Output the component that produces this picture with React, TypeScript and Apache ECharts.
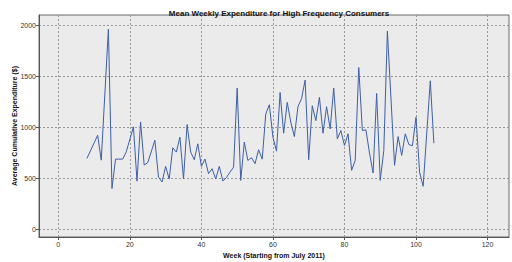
import React, { useEffect, useRef } from "react";
import * as echarts from "echarts";

const weeks = [8, 11, 12, 14, 15, 16, 18, 19, 21, 22, 23, 24, 25, 27, 28, 29, 30, 31, 32, 33, 34, 35, 36, 37, 38, 39, 40, 41, 42, 43, 44, 45, 46, 47, 48, 49, 50, 51, 52, 53, 54, 55, 56, 57, 58, 59, 60, 61, 62, 63, 64, 65, 66, 67, 68, 69, 70, 71, 72, 73, 74, 75, 76, 77, 78, 79, 80, 81, 82, 83, 84, 85, 86, 87, 88, 89, 90, 91, 92, 94, 95, 96, 97, 98, 99, 100, 101, 102, 104, 105];
const expenditure = [695, 922, 678, 1962, 400, 688, 688, 760, 1004, 472, 1052, 630, 653, 873, 513, 464, 617, 493, 800, 757, 903, 493, 1026, 757, 682, 838, 617, 688, 546, 594, 493, 617, 474, 507, 561, 610, 1384, 480, 854, 675, 702, 643, 780, 688, 1130, 1221, 903, 766, 1341, 942, 1244, 1049, 909, 1202, 1280, 1462, 682, 1211, 1065, 1293, 942, 1202, 984, 1384, 887, 968, 822, 936, 578, 675, 1585, 968, 975, 747, 552, 1331, 480, 773, 1942, 627, 909, 724, 936, 831, 819, 1098, 561, 422, 1455, 844];

const xTicks = [0, 20, 40, 60, 80, 100, 120];
const yTicks = [0, 500, 1000, 1500, 2000];

const title = "Mean Weekly Expenditure for High Frequency Consumers";
const xName = "Week (Starting from July 2011)";
const yName = "Average Cumulative Expenditure ($)";

export default function App() {
  const ref = useRef<HTMLDivElement>(null);
  useEffect(() => {
    if (!ref.current) return;
    const chart = echarts.init(ref.current, null, { renderer: "svg" });
    const font = "Liberation Sans, Arial, sans-serif";
    chart.setOption({
      animation: false,
      title: {
        text: title,
        left: 274,
        textAlign: "center",
        top: 4,
        textStyle: { fontSize: 8, fontWeight: "bold", color: "#111", fontFamily: font },
      },
      grid: {
        left: 39,
        top: 15,
        width: 470,
        height: 222,
        containLabel: false,
        outerBoundsMode: "none",
        show: true,
        backgroundColor: "#ebebeb",
        borderColor: "#6a6a6a",
        borderWidth: 1,
      },
      xAxis: {
        type: "value",
        min: -5.4,
        max: 126,
        name: xName,
        nameLocation: "middle",
        nameGap: 15,
        nameMoveOverlap: false,
        nameTextStyle: { fontSize: 7, fontWeight: "bold", color: "#111", fontFamily: font },
        axisLine: { show: true, onZero: false, lineStyle: { color: "#555" } },
        axisTick: { show: true, length: 3, lineStyle: { color: "#555" }, customValues: xTicks },
        axisLabel: {
          fontSize: 7,
          color: "#333",
          margin: 4,
          fontFamily: font,
          customValues: xTicks,
          formatter: (v: number) => String(v),
        },
        splitLine: { show: true, lineStyle: { color: "#999", type: [2, 2], width: 1 } },
      },
      yAxis: {
        type: "value",
        min: -75,
        max: 2100,
        name: yName,
        nameLocation: "middle",
        nameGap: 21,
        nameMoveOverlap: false,
        nameTextStyle: { fontSize: 7, fontWeight: "bold", color: "#111", fontFamily: font },
        axisLine: { show: true, onZero: false, lineStyle: { color: "#555" } },
        axisTick: { show: true, length: 3, lineStyle: { color: "#555" }, customValues: yTicks },
        axisLabel: {
          fontSize: 7,
          color: "#333",
          margin: 3,
          fontFamily: font,
          customValues: yTicks,
          formatter: (v: number) => String(v),
        },
        splitLine: { show: true, lineStyle: { color: "#999", type: [2, 2], width: 1 } },
      },
      series: [
        {
          type: "line",
          data: weeks.map((w, i) => [w, expenditure[i]]),
          showSymbol: false,
          symbol: "none",
          lineStyle: { color: "#3d5fa6", width: 1 },
        },
      ],
    });
    return () => chart.dispose();
  }, []);
  return <div ref={ref} style={{ width: 512, height: 262, position: "absolute", left: 0, top: 0, background: "#fff" }} />;
}
